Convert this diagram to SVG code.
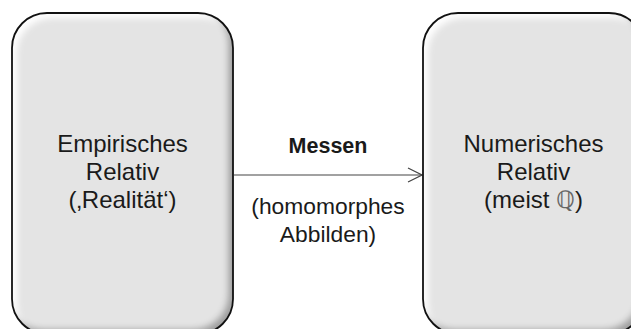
<svg xmlns="http://www.w3.org/2000/svg" width="631" height="329" viewBox="0 0 631 329">
<style>
.box{fill:#e4e4e4;}
.edge{fill:none;stroke:#111;stroke-width:1.8;}
.t{font-family:"Liberation Sans",Arial,sans-serif;font-size:24px;fill:#1a1a1a;text-anchor:middle;}
.b{font-weight:bold;font-size:21.5px;}
.m{font-size:22.8px;}
.conn{stroke:#444;stroke-width:1.2;fill:none;}
</style>
<defs>
<filter id="bevel" x="-10%" y="-10%" width="120%" height="120%">
<feGaussianBlur in="SourceAlpha" stdDeviation="3" result="bl"/>
<feOffset in="bl" dx="5" dy="5" result="o1"/>
<feComposite in="SourceAlpha" in2="o1" operator="arithmetic" k2="1" k3="-1" result="hiA"/>
<feFlood flood-color="#ffffff" flood-opacity="0.95"/>
<feComposite in2="hiA" operator="in" result="hi"/>
<feOffset in="bl" dx="-5" dy="-5" result="o2"/>
<feComposite in="SourceAlpha" in2="o2" operator="arithmetic" k2="1" k3="-1" result="shA"/>
<feFlood flood-color="#000000" flood-opacity="0.55"/>
<feComposite in2="shA" operator="in" result="sh"/>
<feMerge><feMergeNode in="SourceGraphic"/><feMergeNode in="hi"/><feMergeNode in="sh"/></feMerge>
</filter>
<marker id="arr" viewBox="0 0 16 16" refX="15" refY="8" markerWidth="16" markerHeight="16" markerUnits="userSpaceOnUse" orient="auto">
<path d="M1,1 L15,8 L1,15" fill="none" stroke="#444" stroke-width="1.2"/>
</marker>
</defs>
<g id="connectors">
<line class="conn" x1="234" y1="175" x2="422" y2="175" marker-end="url(#arr)"/>
<text class="t b" x="328" y="153">Messen</text>
<text class="t m" x="328" y="214">(homomorphes</text>
<text class="t m" x="328" y="242">Abbilden)</text>
</g>
<g id="node-empirisch">
<rect class="box" x="12" y="13" width="221" height="321" rx="35" ry="35" filter="url(#bevel)"/>
<rect class="edge" x="12" y="13" width="221" height="321" rx="35" ry="35"/>
<text class="t" x="122.5" y="152">Empirisches</text>
<text class="t" x="122.5" y="180">Relativ</text>
<text class="t" x="122.5" y="208">(‚Realität‘)</text>
</g>
<g id="node-numerisch">
<rect class="box" x="423" y="13" width="221" height="321" rx="35" ry="35" filter="url(#bevel)"/>
<rect class="edge" x="423" y="13" width="221" height="321" rx="35" ry="35"/>
<text class="t" x="533.5" y="152">Numerisches</text>
<text class="t" x="533.5" y="180">Relativ</text>
<text class="t" x="533.5" y="208">(meist <tspan fill="#666" font-family="DejaVu Sans">ℚ</tspan>)</text>
</g>
</svg>
